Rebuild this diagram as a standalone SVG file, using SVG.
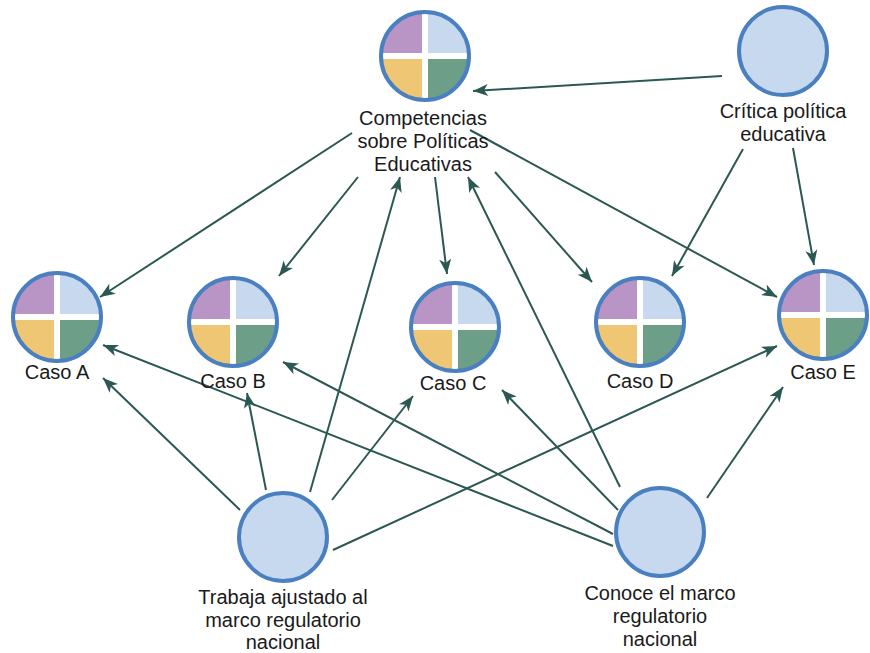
<svg xmlns="http://www.w3.org/2000/svg" xmlns:xlink="http://www.w3.org/1999/xlink" width="870" height="653" viewBox="0 0 870 653">
<style>
.edge{stroke:#2c5853;stroke-width:2;fill:none;marker-end:url(#arr)}
.lbl{font-family:"Liberation Sans",Arial,sans-serif;font-size:20px;fill:#1a1a1a;text-anchor:middle}
.plain{fill:#c6d9ee;stroke:#4a7fc0;stroke-width:4}
.ring{fill:none;stroke:#4a7fc0;stroke-width:4}
</style>
<defs>
<marker id="arr" markerUnits="userSpaceOnUse" markerWidth="20" markerHeight="14" viewBox="-16 -7 18 14" refX="0" refY="0" orient="auto">
<path d="M0,0 L-15,-6 L-11,0 L-15,6 Z" fill="#2c5853"/>
</marker>
<g id="quad">
<path d="M0,0 L-44,0 A44,44 0 0 1 0,-44 Z" fill="#b995c6"/>
<path d="M0,0 L0,-44 A44,44 0 0 1 44,0 Z" fill="#c6d9ee"/>
<path d="M0,0 L44,0 A44,44 0 0 1 0,44 Z" fill="#6d9f88"/>
<path d="M0,0 L0,44 A44,44 0 0 1 -44,0 Z" fill="#efc774"/>
<path d="M-44,0 H44 M0,-44 V44" stroke="#ffffff" stroke-width="6"/>
<circle r="44" class="ring"/>
</g>
</defs>
<rect width="870" height="653" fill="#ffffff"/>
<g id="connectors">
<line class="edge" x1="722" y1="76" x2="473" y2="91"/>
<line class="edge" x1="352" y1="133" x2="100" y2="297"/>
<line class="edge" x1="358" y1="177" x2="279" y2="276"/>
<line class="edge" x1="435" y1="177" x2="447" y2="274"/>
<line class="edge" x1="495" y1="172" x2="592" y2="282"/>
<line class="edge" x1="470" y1="130" x2="777" y2="297"/>
<line class="edge" x1="743" y1="149" x2="672" y2="276"/>
<line class="edge" x1="793" y1="148" x2="814" y2="265"/>
<line class="edge" x1="240" y1="510" x2="103" y2="378"/>
<line class="edge" x1="266" y1="490" x2="247" y2="393"/>
<line class="edge" x1="310" y1="492" x2="400" y2="177"/>
<line class="edge" x1="332" y1="500" x2="413" y2="396"/>
<line class="edge" x1="333" y1="550" x2="777" y2="346"/>
<line class="edge" x1="613" y1="546" x2="103" y2="345"/>
<line class="edge" x1="613" y1="534" x2="283" y2="362"/>
<line class="edge" x1="618" y1="510" x2="502" y2="390"/>
<line class="edge" x1="620" y1="487" x2="468" y2="177"/>
<line class="edge" x1="707" y1="498" x2="783" y2="387"/>
</g>
<g id="competencias">
<use xlink:href="#quad" x="425" y="56"/>
<text class="lbl" x="423" y="125">Competencias</text>
<text class="lbl" x="423" y="148">sobre Políticas</text>
<text class="lbl" x="423" y="171">Educativas</text>
</g>
<g id="critica">
<circle class="plain" cx="783" cy="51" r="44"/>
<text class="lbl" x="783" y="118">Crítica política</text>
<text class="lbl" x="783" y="141">educativa</text>
</g>
<g id="casoA">
<use xlink:href="#quad" x="57" y="317"/>
<text class="lbl" x="57" y="379">Caso A</text>
</g>
<g id="casoB">
<use xlink:href="#quad" x="233" y="322"/>
<text class="lbl" x="233" y="388">Caso B</text>
</g>
<g id="casoC">
<use xlink:href="#quad" x="455" y="327"/>
<text class="lbl" x="453" y="390">Caso C</text>
</g>
<g id="casoD">
<use xlink:href="#quad" x="640" y="322"/>
<text class="lbl" x="640" y="388">Caso D</text>
</g>
<g id="casoE">
<use xlink:href="#quad" x="823" y="315"/>
<text class="lbl" x="823" y="379">Caso E</text>
</g>
<g id="trabaja">
<circle class="plain" cx="283" cy="537" r="44"/>
<text class="lbl" x="283" y="604">Trabaja ajustado al</text>
<text class="lbl" x="283" y="627">marco regulatorio</text>
<text class="lbl" x="283" y="649">nacional</text>
</g>
<g id="conoce">
<circle class="plain" cx="660" cy="532" r="44"/>
<text class="lbl" x="660" y="600">Conoce el marco</text>
<text class="lbl" x="660" y="623">regulatorio</text>
<text class="lbl" x="660" y="646">nacional</text>
</g>
</svg>
